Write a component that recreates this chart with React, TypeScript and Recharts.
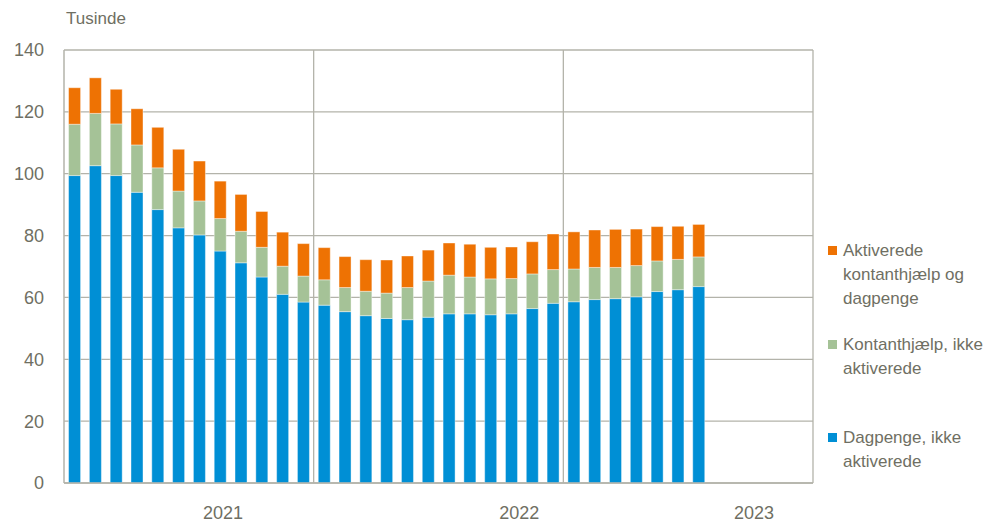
import React from "react";
import { BarChart, Bar, XAxis, YAxis, CartesianGrid } from "recharts";

// months Jan 2021 .. Dec 2023
const years = ["2021", "2022", "2023"];
const monthNums = ["01", "02", "03", "04", "05", "06", "07", "08", "09", "10", "11", "12"];
const categories = years.flatMap((y) => monthNums.map((m) => `${y}M${m}`));

// tusinde personer
const dagpenge = [
  99.4, 102.6, 99.4, 94.0, 88.4, 82.5, 80.2, 75.0, 71.2, 66.6, 61.0, 58.5,
  57.5, 55.4, 54.1, 53.2, 52.8, 53.6, 54.7, 54.7, 54.4, 54.7, 56.4, 58.1,
  58.6, 59.3, 59.6, 60.2, 61.9, 62.5, 63.5,
];
const kontanthjaelp = [
  16.6, 16.9, 16.7, 15.3, 13.5, 11.9, 11.0, 10.5, 10.2, 9.6, 9.1, 8.4,
  8.2, 7.8, 7.9, 8.2, 10.4, 11.7, 12.5, 11.9, 11.6, 11.4, 11.2, 10.9,
  10.6, 10.4, 10.1, 10.1, 9.9, 9.8, 9.6,
];
const aktiverede = [
  11.8, 11.5, 11.2, 11.7, 13.1, 13.5, 12.9, 12.1, 11.9, 11.6, 11.0, 10.5,
  10.4, 10.0, 10.2, 10.7, 10.2, 10.0, 10.4, 10.6, 10.2, 10.2, 10.4, 11.5,
  12.0, 12.1, 12.3, 11.8, 11.1, 10.7, 10.5,
];

const yTicks = [0, 20, 40, 60, 80, 100, 120, 140];
// year labels and the month slot they sit under (with a small nudge)
const yearTicks = ["2021M08", "2022M10", "2023M10"];
const yearNudge: Record<string, number> = { "2021M08": 3, "2022M10": 8, "2023M10": -7 };

const series = [
  { key: "aktiverede", name: ["Aktiverede", "kontanthjælp og", "dagpenge"], color: "#EE7203" },
  { key: "kontanthjaelp", name: ["Kontanthjælp, ikke", "aktiverede"], color: "#A5C297" },
  { key: "dagpenge", name: ["Dagpenge, ikke", "aktiverede"], color: "#008FD5" },
];

const data = categories.map((m, i) => ({
  m,
  dagpenge: dagpenge[i] ?? null,
  kontanthjaelp: kontanthjaelp[i] ?? null,
  aktiverede: aktiverede[i] ?? null,
}));

const font = "'Liberation Sans', Arial, sans-serif";
const textColor = "#6f6f63";
const gridColor = "#b3b3aa";

const YearTick = (props: any) => {
  const { x, y, payload } = props;
  const dx = yearNudge[payload.value] ?? 0;
  return (
    <text x={x + dx} y={y} dy={34} textAnchor="middle" fill={textColor} fontSize={18} fontFamily={font}>
      {payload.value.slice(0, 4)}
    </text>
  );
};

const legendTops = [239, 333, 426];

export default function App() {
  return (
    <div style={{ position: "absolute", left: 0, top: 0, width: 1000, height: 525, background: "#fff", fontFamily: font }}>
      <div style={{ position: "absolute", left: 66, top: 9, fontSize: 17, color: textColor }}>Tusinde</div>
      <BarChart
        width={1000}
        height={525}
        data={data}
        margin={{ top: 50, right: 187, bottom: 0, left: 0 }}
        barCategoryGap="22%"
      >
        <CartesianGrid
          stroke={gridColor}
          strokeWidth={1.3}
          verticalCoordinatesGenerator={({ offset }: any) => [
            offset.left + offset.width / 3,
            offset.left + (2 * offset.width) / 3,
            offset.left + offset.width,
          ]}
        />
        <XAxis
          dataKey="m"
          ticks={yearTicks}
          interval={0}
          tickLine={false}
          tickSize={0}
          axisLine={{ stroke: gridColor, strokeWidth: 1.5 }}
          height={42}
          tick={<YearTick />}
        />
        <YAxis
          width={64}
          domain={[0, 140]}
          ticks={yTicks}
          tickLine={false}
          tickSize={0}
          tickMargin={20}
          axisLine={{ stroke: gridColor, strokeWidth: 1.5 }}
          tick={{ fill: textColor, fontSize: 18, fontFamily: font }}
        />
        <Bar dataKey="dagpenge" stackId="a" fill="#008FD5" stroke="#ffffff" strokeOpacity={0.4} isAnimationActive={false} />
        <Bar dataKey="kontanthjaelp" stackId="a" fill="#A5C297" stroke="#ffffff" strokeOpacity={0.4} isAnimationActive={false} />
        <Bar dataKey="aktiverede" stackId="a" fill="#EE7203" stroke="#ffffff" strokeOpacity={0.4} isAnimationActive={false} />
      </BarChart>
      {series.map((s, i) => (
        <div key={s.key} style={{ position: "absolute", left: 828, top: legendTops[i], display: "flex" }}>
          <div style={{ width: 9, height: 9, background: s.color, marginTop: 7, marginRight: 6 }} />
          <div style={{ fontSize: 17, lineHeight: "24px", color: textColor }}>
            {s.name.map((line) => (
              <div key={line}>{line}</div>
            ))}
          </div>
        </div>
      ))}
    </div>
  );
}
